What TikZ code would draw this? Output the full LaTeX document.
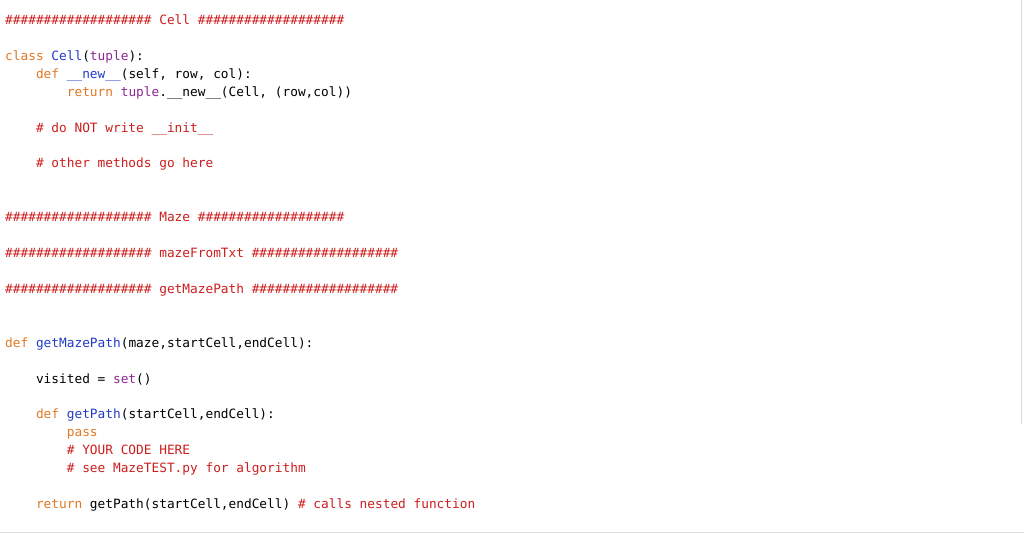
\documentclass[tikz,border=0pt]{standalone}
\usepackage{fontspec}
\setmonofont{DejaVu Sans Mono}
\definecolor{cmt}{RGB}{205,30,30}
\definecolor{kwc}{RGB}{225,120,35}
\definecolor{nmc}{RGB}{35,60,200}
\definecolor{bic}{RGB}{140,40,150}
\newcommand{\kw}[1]{\textcolor{kwc}{#1}}
\newcommand{\cm}[1]{\textcolor{cmt}{#1}}
\newcommand{\nm}[1]{\textcolor{nmc}{#1}}
\newcommand{\bi}[1]{\textcolor{bic}{#1}}
\begin{document}
\begin{tikzpicture}[x=1pt,y=1pt,
  code/.style={anchor=base west,inner sep=0pt,font=\ttfamily\fontsize{12.8}{14}\selectfont}]
\useasboundingbox (0,0) rectangle (1024,534);
\fill[white] (0,0) rectangle (1024,534);
\draw[gray!25] (0,2) -- (1024,2);
\draw[gray!30] (1021,110) -- (1021,534);
\def\ln#1#2#3#4{\node[code] (#1) at (#2,534-#3) {#4};}
\ln{l1}{5}{25}{\cm{\#\#\#\#\#\#\#\#\#\#\#\#\#\#\#\#\#\#\# Cell \#\#\#\#\#\#\#\#\#\#\#\#\#\#\#\#\#\#\#}}
\ln{l2}{5}{61}{\kw{class} \nm{Cell}(\bi{tuple}):}
\ln{l3}{5}{79}{\ \ \ \ \kw{def} \nm{\_\_new\_\_}(self, row, col):}
\ln{l4}{5}{97}{\ \ \ \ \ \ \ \ \kw{return} \bi{tuple}.\_\_new\_\_(Cell, (row,col))}
\ln{l5}{5}{133}{\ \ \ \ \cm{\# do NOT write \_\_init\_\_}}
\ln{l6}{5}{168}{\ \ \ \ \cm{\# other methods go here}}
\ln{l7}{5}{222}{\cm{\#\#\#\#\#\#\#\#\#\#\#\#\#\#\#\#\#\#\# Maze \#\#\#\#\#\#\#\#\#\#\#\#\#\#\#\#\#\#\#}}
\ln{l8}{5}{258}{\cm{\#\#\#\#\#\#\#\#\#\#\#\#\#\#\#\#\#\#\# mazeFromTxt \#\#\#\#\#\#\#\#\#\#\#\#\#\#\#\#\#\#\#}}
\ln{l9}{5}{294}{\cm{\#\#\#\#\#\#\#\#\#\#\#\#\#\#\#\#\#\#\# getMazePath \#\#\#\#\#\#\#\#\#\#\#\#\#\#\#\#\#\#\#}}
\ln{l10}{5}{348}{\kw{def} \nm{getMazePath}(maze,startCell,endCell):}
\ln{l11}{5}{384}{\ \ \ \ visited = \bi{set}()}
\ln{l12}{5}{419}{\ \ \ \ \kw{def} \nm{getPath}(startCell,endCell):}
\ln{l13}{5}{437}{\ \ \ \ \ \ \ \ \kw{pass}}
\ln{l14}{5}{455}{\ \ \ \ \ \ \ \ \cm{\# YOUR CODE HERE}}
\ln{l15}{5}{473}{\ \ \ \ \ \ \ \ \cm{\# see MazeTEST.py for algorithm}}
\ln{l16}{5}{509}{\ \ \ \ \kw{return} getPath(startCell,endCell) \cm{\# calls nested function}}
\end{tikzpicture}
\end{document}
